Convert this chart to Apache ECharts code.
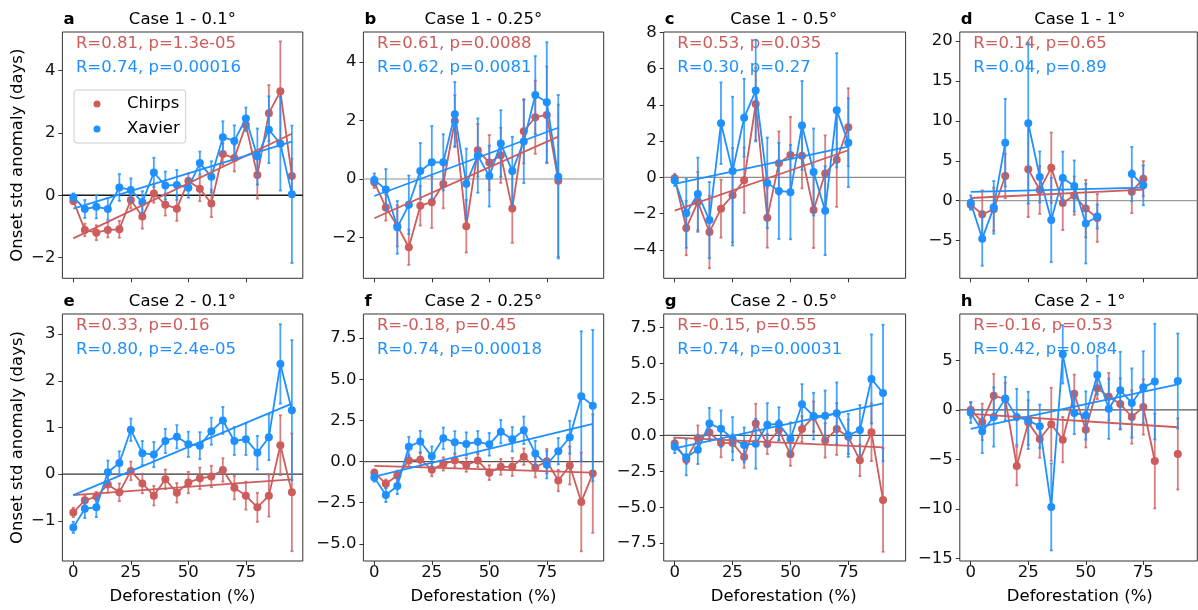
<!DOCTYPE html>
<html>
<head>
<meta charset="utf-8">
<script src="https://cdn.jsdelivr.net/npm/echarts@6/dist/echarts.min.js"></script>
<style>
  html, body { margin: 0; padding: 0; background: #fff; }
  #chart { width: 1198px; height: 610px; }
</style>
</head>
<body>
<div id="chart"></div>
<script>
// ---------------- data ----------------
// Deforestation classes (%) used in each panel
const deforestA = [0, 5, 10, 15, 20, 25, 30, 35, 40, 45, 50, 55, 60, 65, 70, 75, 80, 85, 90, 95];
const deforestB = [0, 5, 10, 15, 20, 25, 30, 35, 40, 45, 50, 55, 60, 65, 70, 75, 80];
const deforestC = [0, 5, 10, 15, 20, 25, 30, 35, 40, 45, 50, 55, 60, 65, 70, 75];
const deforestD = [0, 5, 10, 15, 20, 25, 30, 35, 40, 45, 50, 55, 60, 65, 70, 75];
const deforestE = [0, 5, 10, 15, 20, 25, 30, 35, 40, 45, 50, 55, 60, 65, 70, 75, 80, 85, 90, 95];
const deforestF = [0, 5, 10, 15, 20, 25, 30, 35, 40, 45, 50, 55, 60, 65, 70, 75, 80, 85, 90, 95];
const deforestG = [0, 5, 10, 15, 20, 25, 30, 35, 40, 45, 50, 55, 60, 65, 70, 75, 80, 85, 90];
const deforestH = [0, 5, 10, 15, 20, 25, 30, 35, 40, 45, 50, 55, 60, 65, 70, 75, 80, 85, 90];

// Case 1 - 0.1°
const chirpsA    = [-0.18, -1.11, -1.20, -1.11, -1.09, -0.15, -0.68, 0.06, -0.30, -0.43, 0.46, 0.21, -0.26, 1.32, 1.19, 2.25, 0.65, 2.63, 3.33, 0.62];
const chirpsErrA = [0.10, 0.20, 0.24, 0.24, 0.27, 0.27, 0.39, 0.30, 0.35, 0.39, 0.24, 0.40, 0.44, 0.35, 0.43, 0.20, 0.76, 0.90, 1.60, 0.55];
const xavierA    = [-0.06, -0.44, -0.37, -0.44, 0.25, 0.17, -0.22, 0.73, 0.31, 0.33, 0.24, 1.03, 0.59, 1.86, 1.74, 2.46, 1.24, 2.10, 1.65, 0.03];
const xavierErrA = [0.12, 0.29, 0.37, 0.35, 0.43, 0.37, 0.35, 0.47, 0.45, 0.48, 0.32, 0.37, 0.50, 0.51, 0.50, 0.35, 0.90, 1.07, 1.50, 2.20];
const fitChirpsA = [-1.38, 1.97];
const fitXavierA = [-0.43, 1.72];
const statsA = ['R=0.81, p=1.3e-05', 'R=0.74, p=0.00016'];

// Case 1 - 0.25°
const chirpsB    = [-0.11, -0.97, -1.60, -2.33, -0.91, -0.79, -0.17, 1.98, -1.61, 0.98, 0.56, 0.81, -1.01, 1.63, 2.11, 2.19, -0.06];
const chirpsErrB = [0.20, 0.45, 0.70, 0.60, 0.68, 0.88, 0.83, 0.88, 0.90, 0.90, 0.94, 0.94, 1.17, 1.10, 1.25, 1.65, 2.60];
const xavierB    = [-0.03, -0.36, -1.65, -0.88, 0.27, 0.57, 0.57, 2.21, -0.16, 0.80, 0.10, 1.21, 0.27, 1.28, 2.87, 2.62, 0.08];
const xavierErrB = [0.22, 0.70, 0.90, 1.00, 0.96, 1.24, 0.96, 1.10, 1.20, 1.27, 1.04, 1.14, 1.17, 1.42, 1.33, 2.05, 2.79];
const fitChirpsB = [-1.34, 1.45];
const fitXavierB = [-0.58, 1.75];
const statsB = ['R=0.61, p=0.0088', 'R=0.62, p=0.0081'];

// Case 1 - 0.5°
const chirpsC    = [-0.05, -2.79, -1.35, -3.01, -1.72, -0.98, -0.15, 4.05, -2.22, 0.79, 1.24, 1.20, -1.79, 0.22, 0.98, 2.77];
const chirpsErrC = [0.25, 1.50, 1.65, 2.00, 1.60, 2.60, 1.80, 2.00, 1.65, 1.75, 2.10, 1.80, 2.10, 2.10, 2.60, 2.15];
const xavierC    = [-0.17, -1.98, -0.91, -2.35, 2.99, 0.35, 3.29, 4.79, -0.30, -0.74, -0.81, 2.87, 0.30, -1.83, 3.70, 1.92];
const xavierErrC = [0.30, 1.90, 2.00, 2.10, 2.25, 4.10, 2.15, 2.80, 2.50, 2.65, 2.60, 2.45, 2.40, 2.45, 3.15, 2.45];
const fitChirpsC = [-1.83, 1.50];
const fitXavierC = [-0.35, 1.70];
const statsC = ['R=0.53, p=0.035', 'R=0.30, p=0.27'];

// Case 1 - 1°  (null = no pixels in that class)
const chirpsD    = [-0.50, -1.71, -1.09, 3.09, null, 3.93, 1.34, 4.14, -0.29, 0.63, -1.00, -2.17, null, null, 1.13, 2.76];
const chirpsErrD = [0.50, 3.00, 2.70, 2.80, null, 6.00, 3.00, 4.40, 3.40, 2.40, 3.60, 3.00, null, null, 2.70, 2.20];
const xavierD    = [-0.25, -4.77, -0.84, 7.27, null, 9.70, 2.97, -2.42, 2.84, 1.84, -2.88, -2.00, null, null, 3.34, 1.92];
const xavierErrD = [0.90, 3.40, 3.30, 5.50, null, 10.10, 3.20, 5.30, 3.30, 3.20, 5.00, 1.50, null, null, 3.40, 2.50];
const fitChirpsD = [0.33, 1.38];
const fitXavierD = [1.09, 1.63];
const statsD = ['R=0.14, p=0.65', 'R=0.04, p=0.89'];

// Case 2 - 0.1°
const chirpsE    = [-0.82, -0.56, -0.48, -0.22, -0.39, 0.07, -0.20, -0.46, -0.11, -0.40, -0.18, -0.09, -0.05, 0.09, -0.29, -0.46, -0.71, -0.46, 0.62, -0.39];
const chirpsErrE = [0.10, 0.10, 0.10, 0.18, 0.19, 0.20, 0.21, 0.21, 0.21, 0.21, 0.23, 0.23, 0.23, 0.25, 0.25, 0.30, 0.31, 0.45, 0.64, 1.26];
const xavierE    = [-1.14, -0.74, -0.71, 0.04, 0.24, 0.95, 0.45, 0.42, 0.71, 0.80, 0.64, 0.61, 0.92, 1.15, 0.71, 0.75, 0.46, 0.79, 2.36, 1.37];
const xavierErrE = [0.12, 0.20, 0.21, 0.25, 0.25, 0.24, 0.26, 0.27, 0.26, 0.25, 0.27, 0.29, 0.29, 0.29, 0.30, 0.34, 0.36, 0.49, 0.85, 1.50];
const fitChirpsE = [-0.45, -0.11];
const fitXavierE = [-0.45, 1.51];
const statsE = ['R=0.33, p=0.16', 'R=0.80, p=2.4e-05'];

// Case 2 - 0.25°
const chirpsF    = [-0.67, -1.34, -0.85, 0.06, 0.12, -0.49, -0.14, 0.06, -0.20, 0.06, -0.67, -0.32, -0.32, 0.30, -0.36, 0.02, -1.15, -0.24, -2.45, -0.73];
const chirpsErrF = [0.20, 0.25, 0.30, 0.35, 0.40, 0.40, 0.40, 0.38, 0.42, 0.40, 0.45, 0.48, 0.55, 0.50, 0.60, 0.75, 0.65, 1.15, 3.00, 3.60];
const xavierF    = [-0.97, -2.03, -1.48, 0.91, 1.22, 0.32, 1.42, 1.18, 1.07, 1.20, 1.05, 1.82, 1.36, 1.90, 0.50, -0.19, 0.63, 1.48, 3.97, 3.40];
const xavierErrF = [0.25, 0.43, 0.50, 0.60, 0.65, 0.60, 0.65, 0.67, 0.71, 0.66, 0.69, 0.71, 0.74, 0.84, 0.76, 0.83, 0.80, 1.00, 3.95, 4.60];
const fitChirpsF = [-0.26, -0.67];
const fitXavierF = [-0.91, 2.29];
const statsF = ['R=-0.18, p=0.45', 'R=0.74, p=0.00018'];

// Case 2 - 0.5°
const chirpsG    = [-0.56, -1.69, -0.21, 0.19, -0.53, -0.53, -1.51, 0.83, -0.60, 0.37, -1.32, 0.44, 1.30, -0.35, 0.44, -0.10, -1.74, 0.21, -4.50];
const chirpsErrG = [0.40, 0.30, 0.90, 0.60, 1.00, 0.60, 0.75, 1.37, 0.70, 0.70, 0.80, 0.90, 1.05, 1.20, 1.80, 1.20, 1.10, 2.00, 3.60];
const xavierG    = [-0.79, -1.53, -1.00, 0.83, 0.46, -0.23, -0.67, -0.58, 0.74, 0.79, -0.26, 2.16, 1.34, 1.37, 1.53, 0.00, 0.37, 3.92, 2.94];
const xavierErrG = [0.45, 1.25, 1.00, 1.08, 1.27, 1.50, 1.22, 1.74, 1.50, 1.16, 1.16, 1.40, 1.62, 1.75, 2.15, 1.50, 1.74, 3.10, 4.75];
const fitChirpsG = [-0.16, -0.83];
const fitXavierG = [-0.90, 2.23];
const statsG = ['R=-0.15, p=0.55', 'R=0.74, p=0.00031'];

// Case 2 - 1°
const chirpsH    = [0.00, -1.21, 1.45, 1.11, -5.67, -1.28, -2.93, -1.45, -3.00, 1.65, -1.99, 2.19, 1.35, 0.61, -0.71, 0.30, -5.16, null, -4.45];
const chirpsErrH = [0.80, 1.85, 2.20, 1.67, 1.95, 2.27, 1.90, 3.70, 2.30, 1.93, 1.80, 1.10, 2.40, 2.60, 2.70, 2.80, 4.80, null, 3.60];
const xavierH    = [-0.27, -2.16, -0.71, 1.15, -0.71, -1.05, -1.65, -9.81, 5.63, -0.30, -0.57, 3.54, 0.13, 1.99, 0.71, 2.29, 2.87, null, 2.93];
const xavierErrH = [1.05, 2.20, 3.00, 2.20, 2.85, 2.90, 2.20, 4.40, 2.95, 2.15, 2.45, 1.95, 3.05, 3.90, 3.50, 3.65, 5.85, null, 4.80];
const fitChirpsH = [-0.40, -1.75];
const fitXavierH = [-1.92, 2.60];
const statsH = ['R=-0.16, p=0.53', 'R=0.42, p=0.084'];

// tick labels
const xTicks = [0, 25, 50, 75];
const yTicksA = [-2, 0, 2, 4];
const yTicksB = [-2, 0, 2, 4];
const yTicksC = [-4, -2, 0, 2, 4, 6, 8];
const yTicksD = [-5, 0, 5, 10, 15, 20];
const yTicksE = [-1, 0, 1, 2, 3];
const yTicksF = [-5, -2.5, 0, 2.5, 5, 7.5];
const yTicksG = [-7.5, -5, -2.5, 0, 2.5, 5, 7.5];
const yTicksH = [-15, -10, -5, 0, 5];

const titles = ['Case 1 - 0.1°', 'Case 1 - 0.25°', 'Case 1 - 0.5°', 'Case 1 - 1°',
                'Case 2 - 0.1°', 'Case 2 - 0.25°', 'Case 2 - 0.5°', 'Case 2 - 1°'];
const letters = ['a', 'b', 'c', 'd', 'e', 'f', 'g', 'h'];

// ---------------- layout & style ----------------
const FONT = '"DejaVu Sans", "Liberation Sans", sans-serif';
const FS = 16.5;
const RED = '#cd5c5c', BLUE = '#1e90ff';
const RED_BAR = 'rgba(205,92,92,0.78)', BLUE_BAR = 'rgba(30,144,255,0.82)';
const LINE_W = 1.8;
const COL_LEFT = [62.4, 363.4, 663.7, 959.8];
const COL_WIDTH = [240.4, 240.3, 241.9, 237.5];
const COL_XMAX = [99.75, 99.75, 99.75, 98.47];
const ROW_TOP = [32, 314];
const ROW_HEIGHT = [246.3, 247];
const Y_LIMITS = [[-2.66, 5.23], [-3.39, 5.02], [-5.56, 8.02], [-9.74, 21.15],
                  [-1.86, 3.43], [-6.04, 8.97], [-8.74, 8.44], [-15.28, 9.71]];
const ZERO_COLOR = ['#1a1a1a', '#b4b4b4', '#8c8c8c', '#9a9a9a', '#333333', '#555555', '#555555', '#555555'];
const DECIMAL_TICKS = [false, false, false, false, false, true, true, false];

const panels = [
  { x: deforestA, c: chirpsA, ce: chirpsErrA, v: xavierA, ve: xavierErrA, fc: fitChirpsA, fv: fitXavierA, stats: statsA, yt: yTicksA },
  { x: deforestB, c: chirpsB, ce: chirpsErrB, v: xavierB, ve: xavierErrB, fc: fitChirpsB, fv: fitXavierB, stats: statsB, yt: yTicksB },
  { x: deforestC, c: chirpsC, ce: chirpsErrC, v: xavierC, ve: xavierErrC, fc: fitChirpsC, fv: fitXavierC, stats: statsC, yt: yTicksC },
  { x: deforestD, c: chirpsD, ce: chirpsErrD, v: xavierD, ve: xavierErrD, fc: fitChirpsD, fv: fitXavierD, stats: statsD, yt: yTicksD },
  { x: deforestE, c: chirpsE, ce: chirpsErrE, v: xavierE, ve: xavierErrE, fc: fitChirpsE, fv: fitXavierE, stats: statsE, yt: yTicksE },
  { x: deforestF, c: chirpsF, ce: chirpsErrF, v: xavierF, ve: xavierErrF, fc: fitChirpsF, fv: fitXavierF, stats: statsF, yt: yTicksF },
  { x: deforestG, c: chirpsG, ce: chirpsErrG, v: xavierG, ve: xavierErrG, fc: fitChirpsG, fv: fitXavierG, stats: statsG, yt: yTicksG },
  { x: deforestH, c: chirpsH, ce: chirpsErrH, v: xavierH, ve: xavierErrH, fc: fitChirpsH, fv: fitXavierH, stats: statsH, yt: yTicksH }
];

const minus = s => s.replace('-', '\u2212');

// vertical error bars with small caps
function errorBars(xs, ys, es, color, idx, z) {
  const data = [];
  xs.forEach((x, k) => { if (ys[k] != null && es[k] != null) data.push([x, ys[k], es[k]]); });
  return {
    type: 'custom', xAxisIndex: idx, yAxisIndex: idx, z, silent: true, data,
    encode: { x: 0, y: 1 },
    renderItem(params, api) {
      const x = api.value(0), y = api.value(1), e = api.value(2);
      const hi = api.coord([x, y + e]), lo = api.coord([x, y - e]);
      const st = { stroke: color, lineWidth: LINE_W };
      return {
        type: 'group', children: [
          { type: 'line', shape: { x1: hi[0], y1: hi[1], x2: lo[0], y2: lo[1] }, style: st },
          { type: 'line', shape: { x1: hi[0] - 1.5, y1: hi[1], x2: hi[0] + 1.5, y2: hi[1] }, style: st },
          { type: 'line', shape: { x1: lo[0] - 1.5, y1: lo[1], x2: lo[0] + 1.5, y2: lo[1] }, style: st }
        ]
      };
    }
  };
}

const grids = [], xAxes = [], yAxes = [], series = [], texts = [];
const textBase = { fontFamily: FONT, fontSize: FS };

panels.forEach((p, i) => {
  const row = i < 4 ? 0 : 1, col = i % 4;
  const left = COL_LEFT[col], top = ROW_TOP[row], width = COL_WIDTH[col], height = ROW_HEIGHT[row];
  grids.push({ left, top, width, height, show: true, borderColor: '#333', borderWidth: 1, backgroundColor: 'transparent', containLabel: false });

  xAxes.push({
    type: 'value', gridIndex: i, min: -4.75, max: COL_XMAX[col], position: 'bottom',
    axisLine: { show: false, onZero: false }, splitLine: { show: false },
    axisTick: { show: true, inside: false, length: 4, lineStyle: { color: '#333', width: 1 }, customValues: xTicks },
    axisLabel: { show: row === 1, customValues: xTicks, margin: 3, color: '#111', fontFamily: FONT, fontSize: FS }
  });
  const dec = DECIMAL_TICKS[i];
  yAxes.push({
    type: 'value', gridIndex: i, min: Y_LIMITS[i][0], max: Y_LIMITS[i][1], position: 'left',
    axisLine: { show: false, onZero: false }, splitLine: { show: false },
    axisTick: { show: true, inside: false, length: 4, lineStyle: { color: '#333', width: 1 }, customValues: p.yt },
    axisLabel: {
      customValues: p.yt, margin: 7, color: '#111', fontFamily: FONT, fontSize: FS,
      formatter: v => minus(dec ? Number(v).toFixed(1) : String(v))
    }
  });

  // zero reference line
  series.push({
    type: 'line', xAxisIndex: i, yAxisIndex: i, z: 1, silent: true, symbol: 'none',
    data: [[-4.75, 0], [COL_XMAX[col], 0]],
    lineStyle: { color: ZERO_COLOR[i], width: 1.3 }
  });

  const lineSeries = (name, xs, ys, color, z) => ({
    type: 'line', name, xAxisIndex: i, yAxisIndex: i, z, silent: true,
    data: xs.map((x, k) => [x, ys[k] == null ? '-' : ys[k]]),
    connectNulls: false, symbol: 'circle', symbolSize: 8, showSymbol: true,
    itemStyle: { color }, lineStyle: { color, width: LINE_W },
    emphasis: { disabled: true }
  });

  series.push(errorBars(p.x, p.c, p.ce, RED_BAR, i, 2));
  series.push(lineSeries(i === 0 ? 'Chirps' : 'chirps-' + i, p.x, p.c, RED, 3));
  series.push(errorBars(p.x, p.v, p.ve, BLUE_BAR, i, 4));
  series.push(lineSeries(i === 0 ? 'Xavier' : 'xavier-' + i, p.x, p.v, BLUE, 5));

  // linear fits
  const x0 = p.x[0], x1 = p.x[p.x.length - 1];
  [[p.fc, RED], [p.fv, BLUE]].forEach(([f, color]) => {
    series.push({
      type: 'line', xAxisIndex: i, yAxisIndex: i, z: 6, silent: true, symbol: 'none',
      data: [[x0, f[0]], [x1, f[1]]], lineStyle: { color, width: LINE_W }
    });
  });

  // titles, panel letters, statistics
  const titleY = row === 0 ? 20 : 301.5;
  texts.push({ type: 'text', x: left + 120, y: titleY, z: 0, silent: true,
    style: Object.assign({ text: titles[i], fill: '#000', align: 'center', verticalAlign: 'middle' }, textBase) });
  texts.push({ type: 'text', x: left + 1, y: titleY, z: 0, silent: true,
    style: Object.assign({ text: letters[i], fill: '#000', align: 'left', verticalAlign: 'middle', fontWeight: 'bold' }, textBase) });
  const statY = row === 0 ? [43.3, 67.8] : [325.8, 350.2];
  texts.push({ type: 'text', x: left + 13.5, y: statY[0], z: 0, silent: true,
    style: Object.assign({ text: p.stats[0], fill: RED, align: 'left', verticalAlign: 'middle' }, textBase) });
  texts.push({ type: 'text', x: left + 13.5, y: statY[1], z: 0, silent: true,
    style: Object.assign({ text: p.stats[1], fill: BLUE, align: 'left', verticalAlign: 'middle' }, textBase) });

  if (row === 1) {
    texts.push({ type: 'text', x: left + 120, y: 596.7, silent: true,
      style: Object.assign({ text: 'Deforestation (%)', fill: '#000', align: 'center', verticalAlign: 'middle' }, textBase) });
  }
  if (col === 0) {
    texts.push({ type: 'text', x: 18, y: top + height / 2, rotation: Math.PI / 2, silent: true,
      style: Object.assign({ text: 'Onset std anomaly (days)', fill: '#000', align: 'center', verticalAlign: 'middle' }, textBase) });
  }
});

const chart = echarts.init(document.getElementById('chart'), null, { renderer: 'canvas' });
chart.setOption({
  animation: false,
  backgroundColor: '#fff',
  grid: grids,
  xAxis: xAxes,
  yAxis: yAxes,
  series,
  graphic: { elements: texts },
  legend: {
    left: 74, top: 90, orient: 'vertical', selectedMode: false, z: 10,
    data: [{ name: 'Chirps', icon: 'circle' }, { name: 'Xavier', icon: 'circle' }],
    itemWidth: 7, itemHeight: 7, itemGap: 6,
    padding: [4.5, 6, 4.5, 19.5],
    borderColor: '#cccccc', borderWidth: 1, borderRadius: 3,
    backgroundColor: 'rgba(255,255,255,0.85)',
    textStyle: { fontFamily: FONT, fontSize: FS, color: '#000', lineHeight: 19, padding: [0, 0, 0, 21.5] }
  }
});
</script>
</body>
</html>
